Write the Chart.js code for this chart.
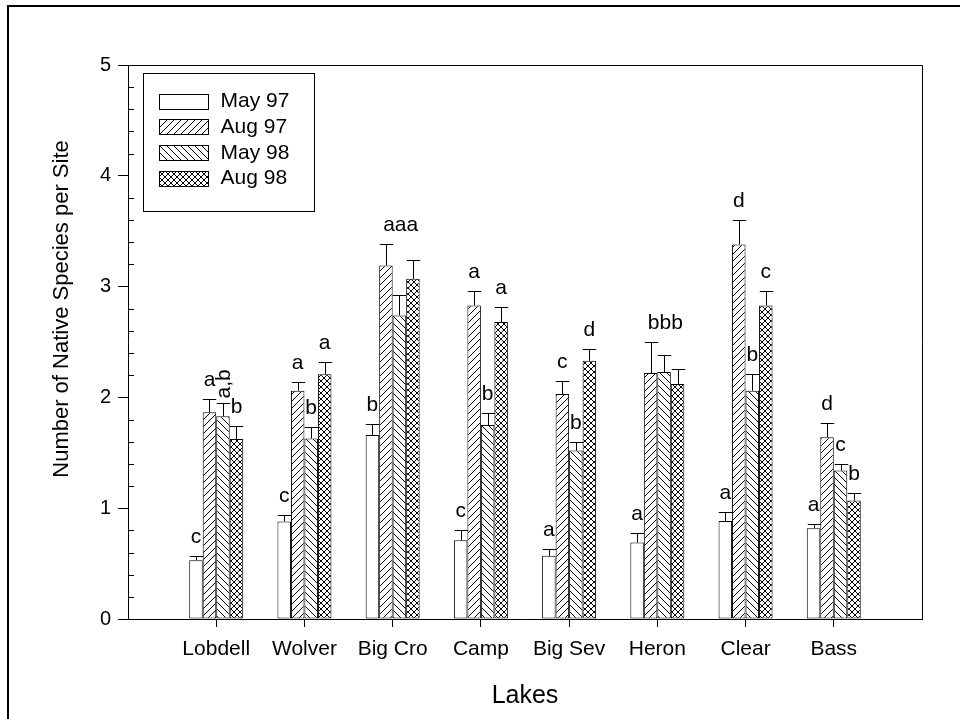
<!DOCTYPE html>
<html>
<head>
<meta charset="utf-8">
<title>Number of Native Species per Site</title>
<script src="https://cdn.jsdelivr.net/npm/chart.js@4.4.1/dist/chart.umd.min.js"></script>
<style>
  html, body { margin: 0; padding: 0; background: #fff; overflow: hidden; }
  #frame { position: absolute; left: 7px; top: 5px; width: 1000px; height: 800px;
           border-top: 2px solid #000; border-left: 2px solid #000; }
  #wrap { position: absolute; left: 0; top: 0; width: 960px; height: 719px; }
</style>
</head>
<body>
<div id="frame"></div>
<div id="wrap"><canvas id="chart"></canvas></div>
<script>
(function () {
  'use strict';

  // ── Data ──
  var LAKES = ['Lobdell', 'Wolver', 'Big Cro', 'Camp', 'Big Sev', 'Heron', 'Clear', 'Bass'];
  var SERIES = ['May 97', 'Aug 97', 'May 98', 'Aug 98'];

  var MAY97    = [0.53, 0.88, 1.66, 0.71, 0.57, 0.69, 0.885, 0.82];
  var MAY97_SE = [0.04, 0.06, 0.10, 0.09, 0.06, 0.09, 0.085, 0.04];
  var AUG97    = [1.865, 2.06, 3.19, 2.83, 2.03, 2.22, 3.38, 1.64];
  var AUG97_SE = [0.125, 0.08, 0.19, 0.13, 0.115, 0.28, 0.22, 0.13];
  var MAY98    = [1.83, 1.63, 2.74, 1.75, 1.52, 2.23, 2.06, 1.34];
  var MAY98_SE = [0.12, 0.10, 0.18, 0.11, 0.08, 0.15, 0.15, 0.06];
  var AUG98    = [1.625, 2.21, 3.07, 2.68, 2.33, 2.12, 2.83, 1.07];
  var AUG98_SE = [0.115, 0.11, 0.17, 0.14, 0.11, 0.14, 0.13, 0.07];

  // significance letters above each bar
  var MAY97_SIG = ['c', 'c', 'b', 'c', 'a', 'a', 'a', 'a'];
  var AUG97_SIG = ['a', 'a', 'aaa', 'a', 'c', 'bbb', 'd', 'd'];
  var MAY98_SIG = ['a,b', 'b', '', 'b', 'b', '', 'b', 'c'];
  var AUG98_SIG = ['b', 'a', '', 'a', 'd', '', 'c', 'b'];

  var Y_TITLE = 'Number of Native Species per Site';
  var X_TITLE = 'Lakes';
  var Y_MIN = 0, Y_MAX = 5, Y_STEP = 1, Y_MINOR = 0.2;

  var FONT = '"Liberation Sans", Arial, Helvetica, sans-serif';
  var INK = '#000';

  // ── Hatch patterns ──
  function makePattern(kind, size) {
    var c = document.createElement('canvas');
    c.width = size; c.height = size;
    var g = c.getContext('2d');
    g.fillStyle = '#fff';
    g.fillRect(0, 0, size, size);
    g.strokeStyle = INK;
    g.lineWidth = 1;
    g.beginPath();
    if (kind === 'fwd' || kind === 'cross') {
      g.moveTo(0, size); g.lineTo(size, 0);
      g.moveTo(-1, 1); g.lineTo(1, -1);
      g.moveTo(size - 1, size + 1); g.lineTo(size + 1, size - 1);
    }
    if (kind === 'back' || kind === 'cross') {
      g.moveTo(0, 0); g.lineTo(size, size);
      g.moveTo(-1, size - 1); g.lineTo(1, size + 1);
      g.moveTo(size - 1, -1); g.lineTo(size + 1, 1);
    }
    g.stroke();
    return g.createPattern(c, 'repeat');
  }

  // pad categories so the axis runs one slot wider on each side
  function pad(arr) { return [null].concat(arr, [null]); }

  var labels = [''].concat(LAKES, ['']);

  var fills = ['#fff', makePattern('fwd', 7), makePattern('back', 7), makePattern('cross', 6)];
  var values = [MAY97, AUG97, MAY98, AUG98];
  var errors = [MAY97_SE, AUG97_SE, MAY98_SE, AUG98_SE];
  var sigs = [MAY97_SIG, AUG97_SIG, MAY98_SIG, AUG98_SIG];

  var datasets = SERIES.map(function (name, i) {
    return {
      label: name,
      data: pad(values[i]),
      errors: pad(errors[i]),
      sig: pad(sigs[i]),
      backgroundColor: fills[i],
      borderColor: INK,
      borderWidth: 1,
      borderSkipped: false,
      categoryPercentage: 0.612,
      barPercentage: 1.0
    };
  });

  // ── Plugins ──
  var errorBars = {
    id: 'errorBars',
    afterDatasetsDraw: function (chart) {
      var ctx = chart.ctx, ys = chart.scales.y;
      ctx.save();
      chart.data.datasets.forEach(function (ds, i) {
        var meta = chart.getDatasetMeta(i);
        meta.data.forEach(function (bar, j) {
          var v = ds.data[j], e = ds.errors[j];
          if (v == null || e == null) return;
          var x = Math.round(bar.x) + 0.5;
          var top = Math.round(ys.getPixelForValue(v + e)) + 0.5;
          var half = bar.width / 2;
          ctx.strokeStyle = INK;
          ctx.lineWidth = 1;
          ctx.beginPath();
          ctx.moveTo(x, bar.y);
          ctx.lineTo(x, top);
          ctx.moveTo(x - half, top);
          ctx.lineTo(x + half, top);
          ctx.stroke();

          // letter above the cap
          var txt = ds.sig[j];
          if (!txt) return;
          ctx.fillStyle = INK;
          ctx.font = '21px ' + FONT;
          if (txt.indexOf(',') >= 0) {
            ctx.save();
            ctx.translate(bar.x + 1, top - 5);
            ctx.rotate(-Math.PI / 2);
            ctx.textAlign = 'left';
            ctx.textBaseline = 'middle';
            ctx.fillText(txt, 0, 0);
            ctx.restore();
          } else if (txt.length > 1) {
            ctx.textAlign = 'left';
            ctx.textBaseline = 'alphabetic';
            ctx.fillText(txt, bar.x - half + 4, top - 14);
          } else {
            ctx.textAlign = 'center';
            ctx.textBaseline = 'alphabetic';
            ctx.fillText(txt, bar.x, top - 14);
          }
        });
      });
      ctx.restore();
    }
  };

  var frameAndLegend = {
    id: 'frameAndLegend',
    afterDraw: function (chart) {
      var ctx = chart.ctx, a = chart.chartArea, ys = chart.scales.y;
      ctx.save();
      ctx.strokeStyle = INK;
      ctx.lineWidth = 1;

      // top and right edges of the plot box
      ctx.beginPath();
      ctx.moveTo(Math.round(a.left) + 0.5, Math.round(a.top) + 0.5);
      ctx.lineTo(Math.round(a.right) + 0.5, Math.round(a.top) + 0.5);
      ctx.lineTo(Math.round(a.right) + 0.5, Math.round(a.bottom) + 0.5);
      ctx.stroke();

      // minor ticks, pointing inward
      var n = Math.round((Y_MAX - Y_MIN) / Y_MINOR);
      ctx.beginPath();
      for (var k = 1; k < n; k++) {
        var v = Y_MIN + k * Y_MINOR;
        if (Math.abs(v / Y_STEP - Math.round(v / Y_STEP)) < 1e-6) continue;
        var py = Math.round(ys.getPixelForValue(v)) + 0.5;
        ctx.moveTo(a.left, py);
        ctx.lineTo(a.left + 6, py);
      }
      ctx.stroke();

      // y title sits a little above the axis middle in the original
      ctx.save();
      ctx.translate(62, (a.top + a.bottom) / 2 - 33);
      ctx.rotate(-Math.PI / 2);
      ctx.fillStyle = INK;
      ctx.font = '22px ' + FONT;
      ctx.textAlign = 'center';
      ctx.textBaseline = 'middle';
      ctx.fillText(Y_TITLE, 0, 0);
      ctx.restore();

      // legend box
      var bx = Math.round(a.left) + 15.5, by = Math.round(a.top) + 8.5;
      ctx.strokeRect(bx, by, 171, 138);
      ctx.font = '21px ' + FONT;
      ctx.textAlign = 'left';
      ctx.textBaseline = 'middle';
      chart.data.datasets.forEach(function (ds, i) {
        var cy = by + 27 + i * 25.7;
        var sx = bx + 16, sy = Math.round(cy - 7) + 0.5;
        ctx.fillStyle = ds.backgroundColor;
        ctx.fillRect(sx, sy, 49, 15);
        ctx.strokeRect(sx, sy, 49, 15);
        ctx.fillStyle = INK;
        ctx.fillText(ds.label, bx + 77, cy + 1);
      });
      ctx.restore();
    }
  };

  // ── Chart ──
  new Chart(document.getElementById('chart').getContext('2d'), {
    type: 'bar',
    data: { labels: labels, datasets: datasets },
    plugins: [errorBars, frameAndLegend],
    options: {
      responsive: true,
      maintainAspectRatio: false,
      animation: false,
      layout: { padding: { left: 0, right: 38, top: 65, bottom: 0 } },
      plugins: {
        legend: { display: false },
        tooltip: { enabled: false }
      },
      scales: {
        x: {
          offset: false,
          afterFit: function (s) { s.height = 100; },
          grid: {
            offset: false,
            drawOnChartArea: false,
            tickLength: 8,
            tickColor: function (c) {
              return (c.index === 0 || c.index === labels.length - 1) ? 'rgba(0,0,0,0)' : INK;
            }
          },
          border: { display: true, color: INK, width: 1 },
          ticks: {
            autoSkip: false,
            maxRotation: 0,
            padding: 10,
            color: INK,
            font: { family: FONT, size: 21 }
          },
          title: {
            display: true,
            text: X_TITLE,
            color: INK,
            font: { family: FONT, size: 25 },
            padding: { top: 0, bottom: 8 }
          }
        },
        y: {
          min: Y_MIN,
          max: Y_MAX,
          afterFit: function (s) { s.width = 128; },
          grid: { drawOnChartArea: false, tickLength: 10, tickColor: INK },
          border: { display: true, color: INK, width: 1 },
          ticks: {
            stepSize: Y_STEP,
            padding: 7,
            color: INK,
            font: { family: FONT, size: 20 }
          }
        }
      }
    }
  });
})();
</script>
</body>
</html>
